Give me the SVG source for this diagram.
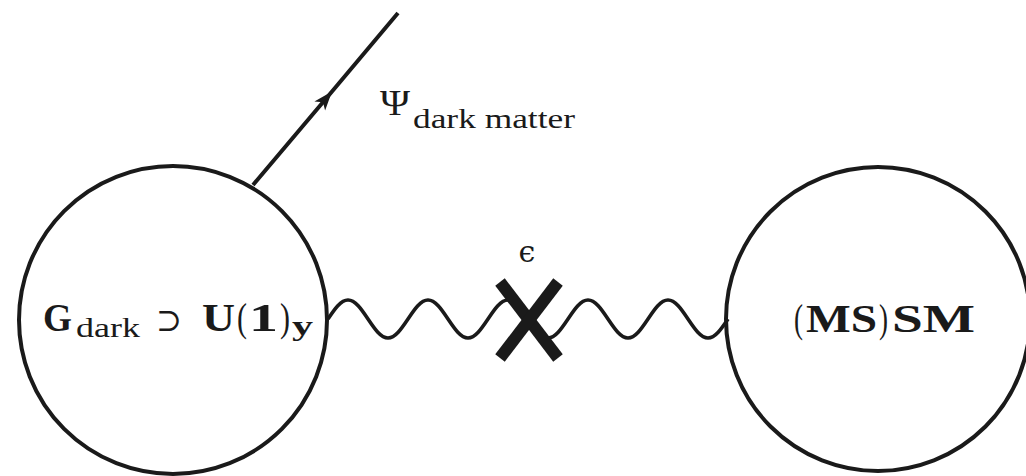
<svg xmlns="http://www.w3.org/2000/svg" width="1026" height="476" viewBox="0 0 1026 476">
<style>
.ln{fill:none;stroke:#1a1a1a;stroke-width:4}
.wv{fill:none;stroke:#1a1a1a;stroke-width:3.6}
.x{stroke:#1a1a1a;stroke-width:12;stroke-linecap:butt}
.t{font-family:"Liberation Serif","Times New Roman",serif;fill:#1a1a1a}
.b{font-weight:bold}
</style>
<defs>
<marker id="arr" markerUnits="userSpaceOnUse" viewBox="-20 -8 22 16" refX="0" refY="0" markerWidth="22" markerHeight="16" orient="auto">
<path d="M0,0 L-19,-7 L-14,0 L-19,7 Z" fill="#1a1a1a"/>
</marker>
</defs>
<rect width="1026" height="476" fill="#fff"/>
<g id="connectors">
<path class="ln" d="M253,185 L332,91.5 L398,13" marker-mid="url(#arr)"/>
<path class="wv" d="M328,319 c6.69,-9.98 12.77,-19 20,-19 c7.23,0 13.31,9.02 20,19 c6.69,9.98 12.77,19 20,19 c7.23,0 13.31,-9.02 20,-19
c6.69,-9.98 12.77,-19 20,-19 c7.23,0 13.31,9.02 20,19 c6.69,9.98 12.77,19 20,19 c7.23,0 13.31,-9.02 20,-19
c6.69,-9.98 12.77,-19 20,-19 c7.23,0 13.31,9.02 20,19 c6.69,9.98 12.77,19 20,19 c7.23,0 13.31,-9.02 20,-19
c6.69,-9.98 12.77,-19 20,-19 c7.23,0 13.31,9.02 20,19 c6.69,9.98 12.77,19 20,19 c7.23,0 13.31,-9.02 20,-19
c6.69,-9.98 12.77,-19 20,-19 c7.23,0 13.31,9.02 20,19 c6.69,9.98 12.77,19 20,19 c7.23,0 13.31,-9.02 20,-19"/>
</g>
<g id="cross">
<line class="x" x1="500" y1="282" x2="558" y2="358"/>
<line class="x" x1="558" y1="282" x2="500" y2="358"/>
<text x="527" y="262" text-anchor="middle" font-family="DejaVu Serif, serif" font-size="30" fill="#1a1a1a">ϵ</text>
</g>
<g id="dark-sector">
<circle class="ln" cx="173" cy="320" r="154"/>
<text class="t" y="331" font-size="40"><tspan class="b" x="43" textLength="29" lengthAdjust="spacingAndGlyphs">G</tspan><tspan x="76" y="337" font-size="28" textLength="64" lengthAdjust="spacingAndGlyphs">dark</tspan><tspan x="156" y="331" font-family="DejaVu Serif, serif" font-size="32" textLength="26" lengthAdjust="spacingAndGlyphs">⊃</tspan><tspan class="b" x="202" textLength="33" lengthAdjust="spacingAndGlyphs">U</tspan><tspan x="237" textLength="10" lengthAdjust="spacingAndGlyphs">(</tspan><tspan class="b" x="249" textLength="29" lengthAdjust="spacingAndGlyphs">1</tspan><tspan x="280" textLength="10" lengthAdjust="spacingAndGlyphs">)</tspan><tspan class="b" x="292" y="335" font-size="28" textLength="21" lengthAdjust="spacingAndGlyphs">y</tspan></text>
</g>
<g id="dark-matter">
<text class="t" y="115" font-size="36"><tspan x="380" textLength="30" lengthAdjust="spacingAndGlyphs">Ψ</tspan><tspan x="413" y="128" font-size="27" textLength="162" lengthAdjust="spacingAndGlyphs">dark matter</tspan></text>
</g>
<g id="sm">
<circle class="ln" cx="878" cy="319" r="152"/>
<text class="t" y="332" font-size="40"><tspan x="794" textLength="9" lengthAdjust="spacingAndGlyphs">(</tspan><tspan class="b" x="806" textLength="71" lengthAdjust="spacingAndGlyphs">MS</tspan><tspan x="879" textLength="9" lengthAdjust="spacingAndGlyphs">)</tspan><tspan class="b" x="892" textLength="83" lengthAdjust="spacingAndGlyphs">SM</tspan></text>
</g>
</svg>
